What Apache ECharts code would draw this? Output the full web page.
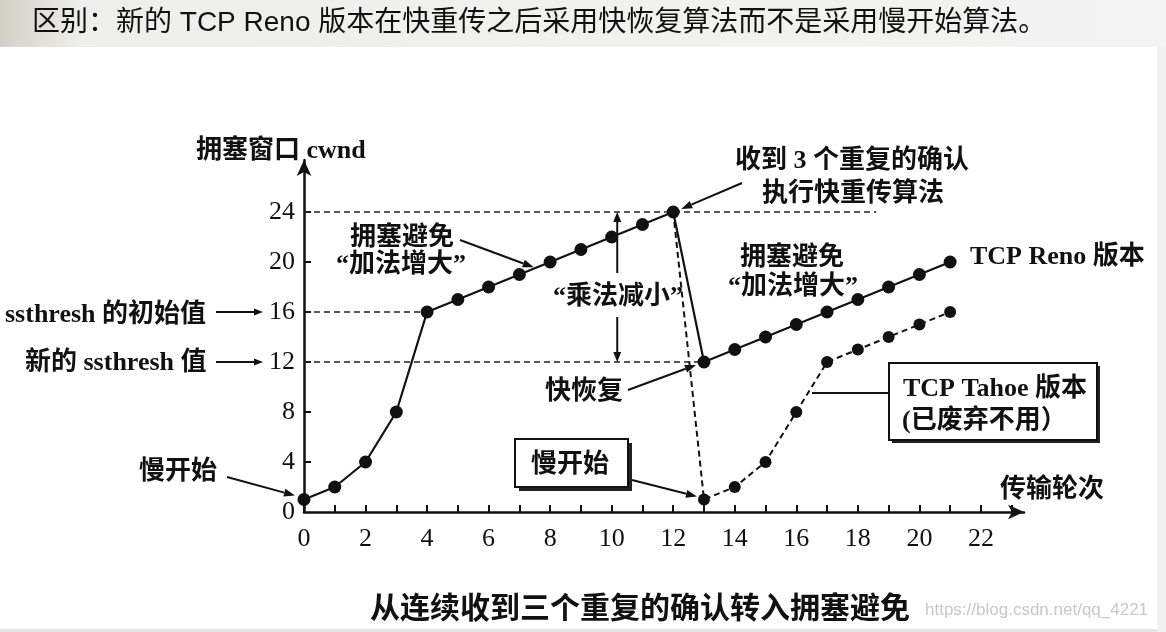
<!DOCTYPE html>
<html><head><meta charset="utf-8">
<script src="https://cdn.jsdelivr.net/npm/echarts@6/dist/echarts.min.js"></script>
<style>html,body{margin:0;padding:0;background:#fff}#c{width:1166px;height:632px}</style>
</head><body><div id="c"></div>
<script>
// ---- data ----
const renoRounds = [0,1,2,3,4,5,6,7,8,9,10,11,12,13,14,15,16,17,18,19,20,21];
const renoCwnd   = [1,2,4,8,16,17,18,19,20,21,22,23,24,12,13,14,15,16,17,18,19,20];
const tahoeRounds = [12,13,14,15,16,17,18,19,20,21];
const tahoeCwnd   = [24,1,2,4,8,12,13,14,15,16];
const yTickLabels = [0,4,8,12,16,20,24];
const yTickMarks  = [4,8,12,16,20,24];
const xTickLabels = [0,2,4,6,8,10,12,14,16,18,20,22];
const xTickMarks  = [0,1,2,3,4,5,6,7,8,9,10,11,12,13,14,15,16,17,18,19,20,21,22,23];
const guideLevels = [24,16,12];
const guideEnds   = [18.6,4,13];

const SERIF = '"Liberation Serif","Noto Sans CJK SC",serif';
const SANS = '"Liberation Sans","Noto Sans CJK SC",sans-serif';
const INK = '#111';

const chart = echarts.init(document.getElementById('c'), null, {renderer:'canvas'});
const renoData = renoRounds.map((x,i)=>[x, renoCwnd[i]]);
const tahoeData = tahoeRounds.map((x,i)=> i===0 ? {value:[x,tahoeCwnd[i]], symbol:'none'} : [x, tahoeCwnd[i]]);

chart.setOption({
  animation:false,
  backgroundColor:'#fff',
  grid:{left:304, top:160, width:720, height:352},
  xAxis:{type:'value', min:0, max:23.4, interval:1,
    axisLine:{show:true, onZero:false, symbol:['none','arrow'], symbolSize:[11,16], lineStyle:{color:INK, width:2.5}},
    axisTick:{show:true, inside:true, length:7, customValues:xTickMarks, lineStyle:{color:INK, width:2}},
    axisLabel:{customValues:xTickLabels, margin:14, fontSize:26, fontFamily:SERIF, color:INK,
      formatter:v=> (v%2===0 && v<=22) ? String(v) : ''},
    splitLine:{show:false}},
  yAxis:{type:'value', min:0, max:28.16, interval:4,
    axisLine:{show:true, onZero:false, symbol:['none','arrow'], symbolSize:[11,16], lineStyle:{color:INK, width:2.5}},
    axisTick:{show:true, inside:true, length:7, customValues:yTickMarks, lineStyle:{color:INK, width:2}},
    axisLabel:{customValues:yTickLabels, margin:9, fontSize:26, fontFamily:SERIF, color:INK,
      formatter:v=> v<=24 ? String(v) : ''},
    splitLine:{show:false}},
  series:[
    {type:'line', name:'TCP Reno', data:renoData, symbol:'circle', symbolSize:13,
      itemStyle:{color:INK}, lineStyle:{color:INK, width:2.2}, z:5,
      markLine:{silent:true, symbol:'none', label:{show:false},
        lineStyle:{type:[6,4], color:'#222', width:1.6},
        data: guideLevels.map((v,i)=>[{coord:[0,v]},{coord:[guideEnds[i],v]}])}},
    {type:'line', name:'TCP Tahoe', data:tahoeData, symbol:'circle', symbolSize:12,
      itemStyle:{color:INK}, lineStyle:{color:INK, width:2, type:[6,4]}, z:4}
  ]
});

function P(x,y){ return chart.convertToPixel({gridIndex:0},[x,y]); }
function arrow(x1,y1,x2,y2,hl,hw){
  hl = hl||11; hw = hw||4;
  const dx=x2-x1, dy=y2-y1, L=Math.hypot(dx,dy), ux=dx/L, uy=dy/L;
  const bx=x2-ux*hl, by=y2-uy*hl;
  return [
    {type:'line', z:100, shape:{x1:x1,y1:y1,x2:bx,y2:by}, style:{stroke:INK, lineWidth:2}},
    {type:'polygon', z:100, shape:{points:[[x2,y2],[bx-uy*hw,by+ux*hw],[bx+uy*hw,by-ux*hw]]}, style:{fill:INK}}
  ];
}
function txt(t,x,y,size,font,weight,fill){
  return {type:'text', z:100, style:{text:t, x:x, y:y, fontSize:size||26, fontFamily:font||SERIF,
    fontWeight:weight||'bold', fill:fill||INK, align:'left', verticalAlign:'middle'}};
}

const g = [];
// header bar
g.push({type:'rect', z:1, shape:{x:0,y:0,width:1166,height:47},
  style:{fill:new echarts.graphic.LinearGradient(0,0,1,0,[{offset:0,color:'#d3d1c6'},{offset:0.07,color:'#eeeeeb'},{offset:1,color:'#f3f3f3'}])}});
g.push(txt('区别：新的 TCP Reno 版本在快重传之后采用快恢复算法而不是采用慢开始算法。', 32, 23, 28, SANS, 'normal'));
// right strip & bottom line
g.push({type:'rect', z:1, shape:{x:1157,y:47,width:9,height:585}, style:{fill:'#f1f1f1'}});
g.push({type:'rect', z:1, shape:{x:0,y:629,width:1157,height:3}, style:{fill:'#e4e4e4'}});

// texts
g.push(txt('拥塞窗口 cwnd', 196, 151));
g.push(txt('收到 3 个重复的确认', 735, 161));
g.push(txt('执行快重传算法', 762, 194));
g.push(txt('拥塞避免', 350, 238));
g.push(txt('“加法增大”', 336, 265));
g.push(txt('拥塞避免', 740, 258));
g.push(txt('“加法增大”', 728, 287));
g.push(txt('TCP Reno 版本', 970, 257));
g.push(txt('“乘法减小”', 553, 297));
g.push(txt('ssthresh 的初始值', 5, 315));
g.push(txt('新的 ssthresh 值', 25, 363));
g.push(txt('快恢复', 545, 392));
g.push(txt('慢开始', 139, 472));
g.push(txt('传输轮次', 1000, 490));

// arrows
const p24 = P(12,24), pCA = P(7.5,19.5), pFR = P(13,12), p0 = P(0,1), p13 = P(13,1);
const y16 = P(0,16)[1], y12 = P(0,12)[1];
g.push(...arrow(742,183, p24[0]+8, p24[1]-3));
g.push(...arrow(460,240, pCA[0]-1, pCA[1]-1));
g.push(...arrow(628,390, pFR[0]-8, pFR[1]+3));
g.push(...arrow(227,477, p0[0]-9, p0[1]-4));
g.push(...arrow(216,y16, 263,y16, 9, 3.5));
g.push(...arrow(216,y12, 263,y12, 9, 3.5));
const mx = P(10.18,0)[0];
g.push(...arrow(mx,273, mx,p24[1], 10, 4));
g.push(...arrow(mx,317, mx,y12, 10, 4));

// slow start box
g.push({type:'rect', z:90, shape:{x:519,y:443,width:113,height:48}, style:{fill:'#222'}});
g.push({type:'rect', z:91, shape:{x:515,y:439,width:113,height:48}, style:{fill:'#fff', stroke:INK, lineWidth:2}});
g.push(txt('慢开始', 531, 465));
g.push(...arrow(632,480, p13[0]-7, p13[1]-3));

// Tahoe box
g.push({type:'line', z:90, shape:{x1:812,y1:393,x2:889,y2:393}, style:{stroke:INK, lineWidth:2}});
g.push({type:'rect', z:90, shape:{x:892,y:366,width:208,height:77}, style:{fill:'#222'}});
g.push({type:'rect', z:91, shape:{x:889,y:363,width:208,height:77}, style:{fill:'#fff', stroke:INK, lineWidth:2}});
g.push(txt('TCP Tahoe 版本', 903, 389));
g.push(txt('(已废弃不用）', 902, 421));

// caption + watermark
g.push(txt('从连续收到三个重复的确认转入拥塞避免', 370, 607, 30, '"Noto Sans CJK SC",sans-serif', 'bold'));
g.push(txt('https://blog.csdn.net/qq_4221', 925, 610, 17, SANS, 'normal', '#c8c8c8'));

chart.setOption({graphic: g});
</script>
</body></html>
